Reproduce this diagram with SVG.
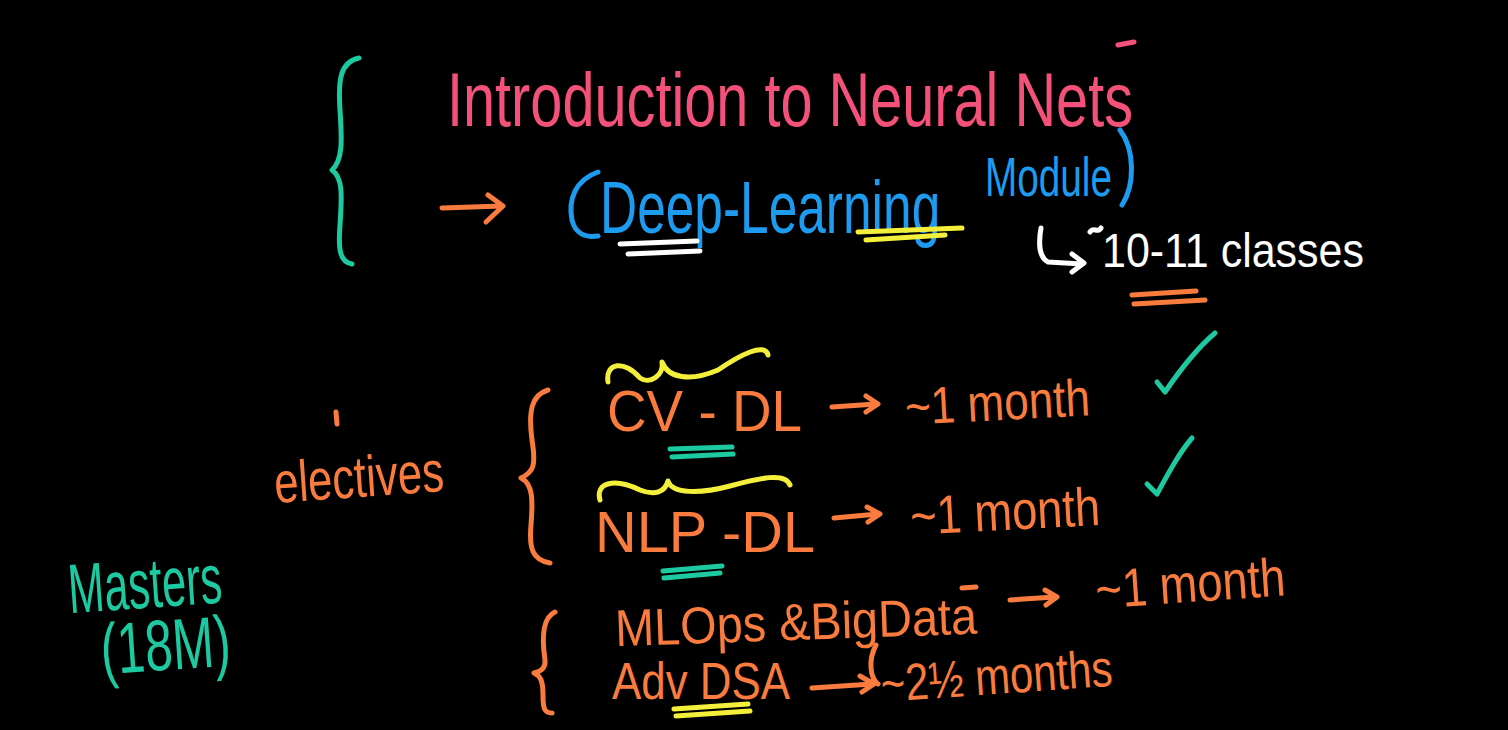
<svg xmlns="http://www.w3.org/2000/svg" width="1508" height="730" viewBox="0 0 1508 730">
<defs>
<style>
.s{fill:none;stroke-linecap:round;stroke-linejoin:round;stroke-width:5}
.t{font-family:"Liberation Sans Narrow","Liberation Sans",sans-serif}
.pink{fill:#F4517A}.blue{fill:#1C9BEF}.teal{fill:#1CC9A0}.orange{fill:#F97C3E}.white{fill:#FFFFFF}
.sp{stroke:#F4517A}.sb{stroke:#1C9BEF}.st{stroke:#1CC9A0}.so{stroke:#F97C3E}.sy{stroke:#F3EF3A}.sw{stroke:#FFFFFF}
</style>
</defs>
<rect width="1508" height="730" fill="#000"/>

<g id="intro">
<path class="s st" d="M359,58 C340,62 338,80 340,110 C342,140 343,160 332,170 C343,178 342,195 340,225 C338,250 340,262 352,264"/>
<text class="t pink" x="447" y="126" font-size="76" textLength="686" lengthAdjust="spacingAndGlyphs">Introduction to Neural Nets</text>
<path class="s sp" d="M1118,45 L1134,42" stroke-width="4"/>
</g>

<g id="deep-learning">
<path class="s so" d="M442,208 L502,206 M488,195 L503,206 L486,222"/>
<path class="s sb" d="M598,172 C575,180 568,200 572,220 C575,233 585,238 598,236"/>
<text class="t blue" transform="translate(600,233) scale(0.695,1)" x="0" y="0" font-size="74">Deep-Learning</text>
<text class="t blue" x="985" y="196" font-size="56" textLength="127" lengthAdjust="spacingAndGlyphs">Module</text>
<path class="s sb" d="M1120,130 C1135,150 1135,185 1122,205"/>
<path class="s sw" d="M620,244 L697,241 M628,254 L700,251"/>
<path class="s sy" d="M858,232 L962,228 M866,240 L945,235"/>
</g>

<g id="classes">
<path class="s sw" d="M1041,228 C1038,245 1040,258 1048,262 L1082,264 M1072,254 L1084,263 L1072,272"/>
<path class="s sw" d="M1090,232 C1094,226 1097,234 1101,228" stroke-width="3"/>
<text class="t white" x="1102" y="267" font-size="48" textLength="262" lengthAdjust="spacingAndGlyphs">10-11 classes</text>
<path class="s so" d="M1132,295 L1196,291 M1134,304 L1205,300"/>
</g>

<g id="electives">
<text class="t orange" x="274" y="497" font-size="58" textLength="170" lengthAdjust="spacingAndGlyphs" transform="rotate(-4 360 480)">electives</text>
<path class="s so" d="M336,412 L337,424" stroke-width="3"/>
<path class="s so" d="M548,390 C532,395 528,410 532,440 C536,465 534,472 521,478 C533,484 533,500 531,525 C529,548 532,560 550,563"/>
</g>

<g id="cv-dl">
<path class="s sy" d="M608,382 C605,362 625,360 640,378 C650,385 664,375 662,362 C668,378 690,382 718,370 C740,355 765,342 768,355"/>
<text class="t orange" x="607" y="431" font-size="58" textLength="195" lengthAdjust="spacingAndGlyphs">CV - DL</text>
<path class="s so" d="M832,407 L876,404 M866,396 L878,404 L866,412"/>
<text class="t orange" x="905" y="420" font-size="52" textLength="185" lengthAdjust="spacingAndGlyphs" transform="rotate(-3 1000 405)">~1 month</text>
<path class="s st" d="M670,449 L732,447 M672,457 L733,454"/>
<path class="s st" d="M1157,382 L1165,392 C1180,370 1195,350 1215,333"/>
</g>

<g id="nlp-dl">
<path class="s sy" d="M600,500 C595,482 615,478 640,490 C655,496 665,492 668,481 C672,494 700,494 730,486 C760,478 785,472 790,485"/>
<text class="t orange" x="595" y="552" font-size="58" textLength="220" lengthAdjust="spacingAndGlyphs">NLP -DL</text>
<path class="s so" d="M834,518 L878,514 M867,507 L880,514 L868,522"/>
<text class="t orange" x="910" y="530" font-size="54" textLength="190" lengthAdjust="spacingAndGlyphs" transform="rotate(-3 1005 510)">~1 month</text>
<path class="s st" d="M663,571 L722,566 M664,578 L720,573" stroke-width="6"/>
<path class="s st" d="M1147,484 L1157,494 C1170,470 1180,452 1192,438"/>
</g>

<g id="masters">
<text class="t teal" x="68" y="608" font-size="70" textLength="154" lengthAdjust="spacingAndGlyphs" transform="rotate(-4 145 585)">Masters</text>
<text class="t teal" x="100" y="670" font-size="72" textLength="130" lengthAdjust="spacingAndGlyphs" transform="rotate(-4 165 640)">(18M)</text>
</g>

<g id="mlops">
<path class="s so" d="M555,612 C542,618 542,640 545,660 C546,668 540,672 534,673 C541,676 543,682 543,695 C543,708 544,713 552,713"/>
<text class="t orange" x="615" y="640" font-size="52" textLength="362" lengthAdjust="spacingAndGlyphs" transform="rotate(-2 795 620)">MLOps &amp;BigData</text>
<path class="s so" d="M962,588 L976,587" stroke-width="3"/>
<path class="s so" d="M1010,600 L1055,597 M1045,590 L1057,597 L1046,605"/>
<text class="t orange" x="1095" y="602" font-size="54" textLength="190" lengthAdjust="spacingAndGlyphs" transform="rotate(-4 1190 580)">~1 month</text>
</g>

<g id="adv-dsa">
<text class="t orange" x="612" y="699" font-size="52" textLength="178" lengthAdjust="spacingAndGlyphs">Adv DSA</text>
<path class="s sy" d="M674,709 L748,704 M676,716 L750,711" stroke-width="6"/>
<path class="s so" d="M876,645 C868,660 870,678 878,684 M812,688 L872,684 M860,676 L874,684 L862,692"/>
<text class="t orange" x="880" y="694" font-size="52" textLength="232" lengthAdjust="spacingAndGlyphs" transform="rotate(-4 995 670)">~2½ months</text>
</g>
</svg>
